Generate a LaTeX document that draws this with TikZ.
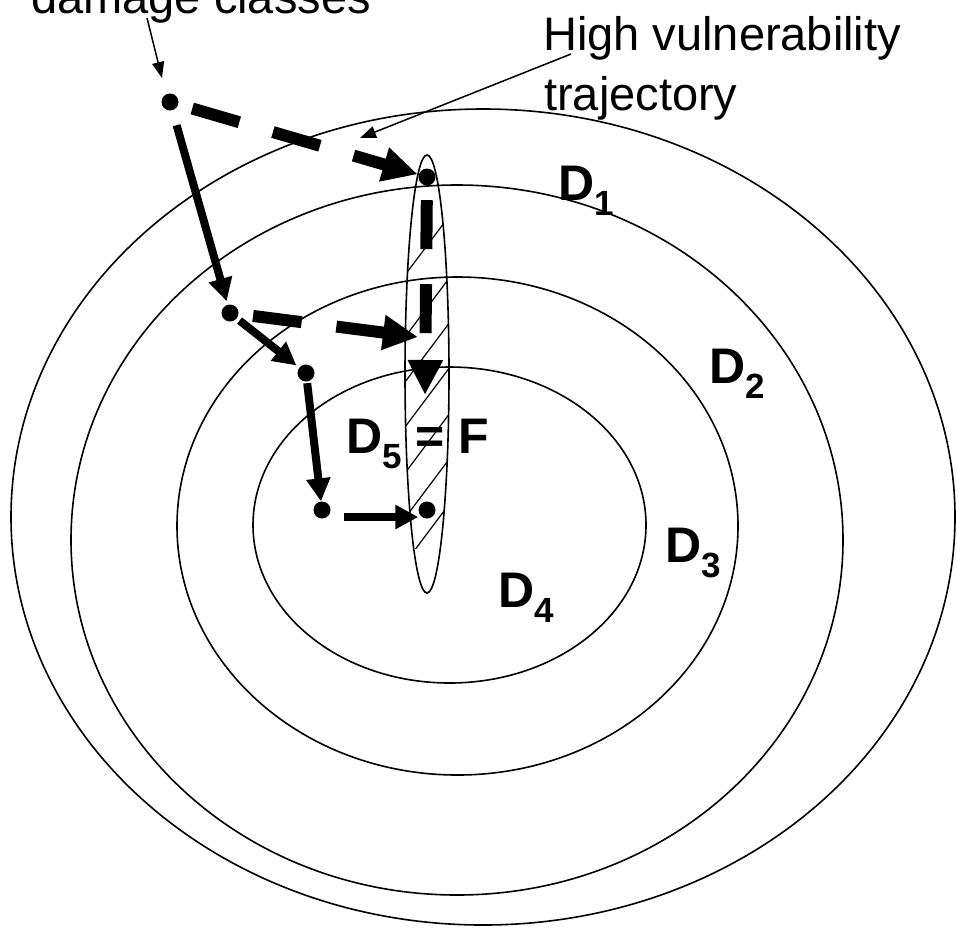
\documentclass[tikz,border=0pt]{standalone}
\usepackage{fontspec}
\setmainfont{Liberation Sans}
\usetikzlibrary{arrows.meta}
\newcommand\dsub[1]{\raisebox{-15pt}{\fontsize{35}{35}\selectfont #1}}
\begin{document}
\begin{tikzpicture}[x=1pt,y=-1pt,
  ring/.style={line width=1.6pt},
  hatchline/.style={line width=1.2pt},
  dot/.style={circle,fill=black,inner sep=0pt,minimum size=17pt},
  solidarr/.style={line width=8pt,-{Triangle[length=23pt,width=23pt]}},
  dasharr/.style={line width=12pt,dash pattern=on 49pt off 35pt,-{Triangle[length=35pt,width=33pt]}},
  thinarr/.style={line width=1.5pt,-{Triangle[length=16pt,width=12pt]}},
  dlabel/.style={font=\fontsize{50}{50}\selectfont\bfseries,anchor=base west,inner sep=0pt},
  note/.style={font=\fontsize{47}{62}\selectfont,anchor=base west,inner sep=0pt}]
\useasboundingbox (0,0) rectangle (957,927);
\clip (0,0) rectangle (957,927);
% damage class rings
\draw[ring] (483,517) ellipse [x radius=472pt, y radius=408pt];
\draw[ring] (457,540) ellipse [x radius=386pt, y radius=355pt];
\draw[ring] (457.5,526) ellipse [x radius=280.5pt, y radius=249pt];
\draw[ring] (449.5,525) ellipse [x radius=196.5pt, y radius=158pt];
% narrow high vulnerability ellipse with hatching
\begin{scope}
  \clip (427,374) ellipse [x radius=22pt, y radius=219pt];
  \clip (380,212) rectangle (470,548);
  \foreach \yy in {215,277,322,367,413,458,503}
    \draw[hatchline] (465,\yy-20) -- (390,\yy+80);
\end{scope}
\draw[ring] (427,374) ellipse [x radius=22pt, y radius=219pt];
% states
\node[dot] (d0) at (170,102) {};
\node[dot] (d1) at (427,177) {};
\node[dot] (d2) at (230,313) {};
\node[dot] (d3) at (306,373) {};
\node[dot] (d4) at (322,510) {};
\node[dot] (d5) at (427,510) {};
% high vulnerability trajectory (dashed)
\coordinate (t2) at (418,337);
\coordinate (t3) at (425,395);
\draw[dasharr,shorten <=14.5pt,shorten >=1pt] (d0) -- (d1);
\draw[dasharr,shorten <=14.5pt] (d2) -- (t2);
\draw[dasharr,shorten <=14.5pt] (d1) -- (t3);
% normal trajectory (solid)
\draw[solidarr,shorten <=15.5pt,shorten >=3.5pt] (d0) -- (d2);
\draw[solidarr,shorten <=3.5pt,shorten >=3.5pt] (d2) -- (d3);
\draw[solidarr,shorten <=1.5pt] (d3) -- (d4);
\draw[solidarr,shorten <=13.5pt] ([yshift=-7pt]d4.east) -- ([yshift=-7pt]d5.west);
% labels
\node[dlabel] (lD1) at (558,200) {D\dsub{1}};
\node[dlabel] (lD2) at (709,383) {D\dsub{2}};
\node[dlabel] (lD3) at (665,562) {D\dsub{3}};
\node[dlabel] (lD4) at (498,607) {D\dsub{4}};
\node[dlabel] (lD5) at (346,453) {D\dsub{5} = F};
\node[note] (lbl1) at (31,13) {damage classes};
\node[note] (lbl2) at (543,50) {High vulnerability};
\node[note] (lbl3) at (544,110) {trajectory};
% pointers
\coordinate (p1s) at (147,18);
\coordinate (p1e) at (162,78);
\draw[thinarr] (p1s) -- (p1e);
\coordinate (p2s) at (571,54);
\coordinate (p2e) at (360,138);
\draw[thinarr] (p2s) -- (p2e);
\end{tikzpicture}
\end{document}
